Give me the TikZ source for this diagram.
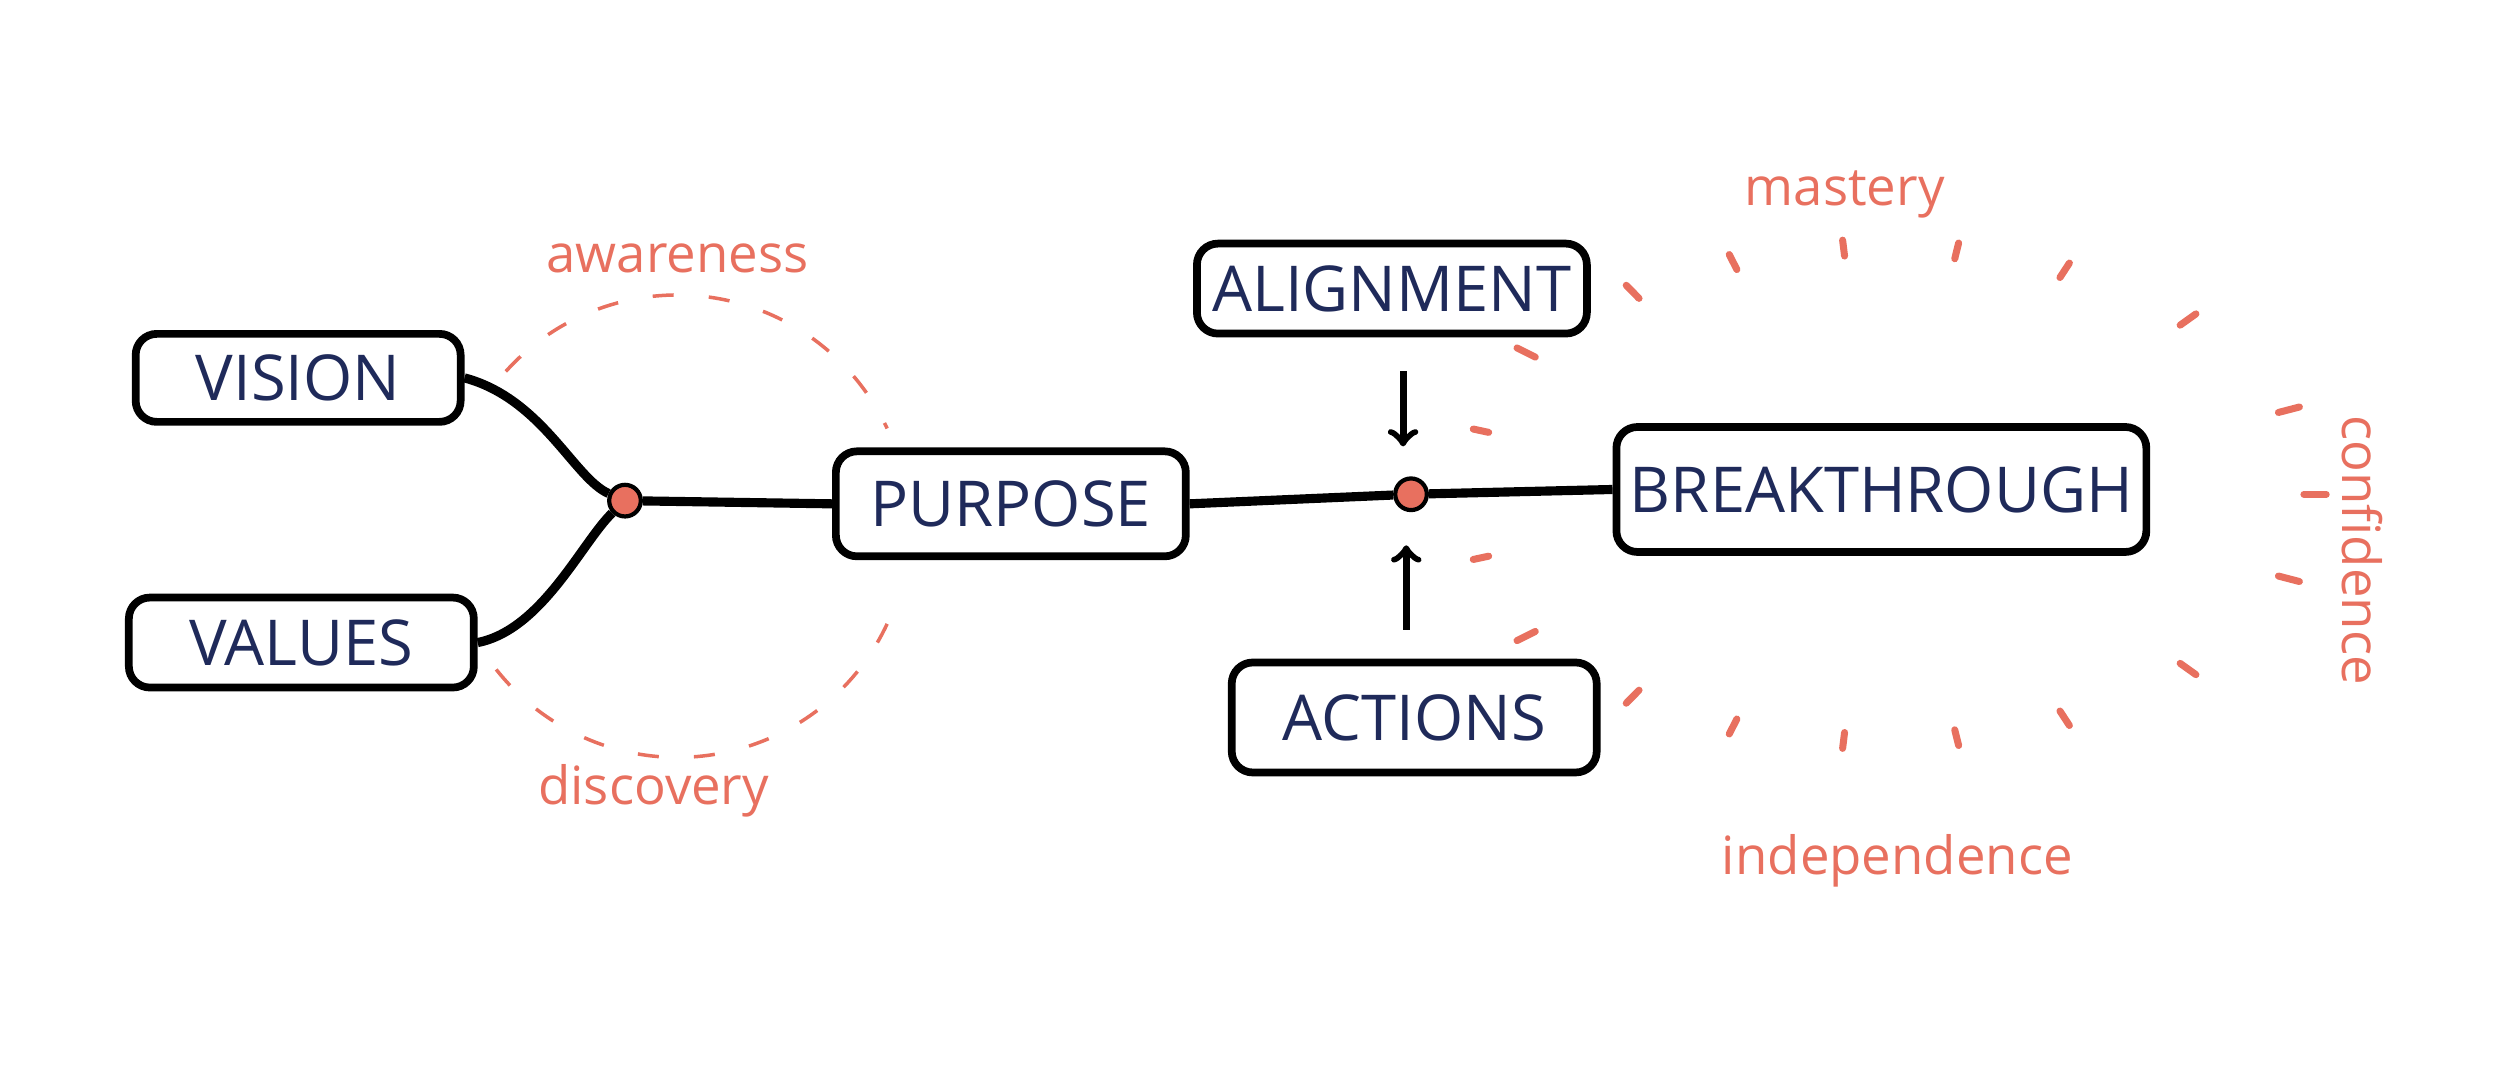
\documentclass[tikz,border=0pt]{standalone}
\usepackage{fontspec}
\setmainfont{Open Sans}
\usetikzlibrary{positioning}
\definecolor{ink}{HTML}{1F2A5A}
\definecolor{salmon}{HTML}{E8705F}
\begin{document}
\begin{tikzpicture}[x=0.01594cm,y=-0.01594cm,
    box/.style={draw=black,line width=2.2pt,rounded corners=6pt,fill=white,text=ink,
      font=\fontsize{18}{22}\selectfont,inner sep=0pt},
    word/.style={text=salmon,font=\fontsize{15}{18}\selectfont},
    link/.style={line width=2.6pt,black},
    tick/.style={salmon,line width=2pt,line cap=round},
    dot/.style={circle,fill=salmon,draw=black,line width=1.2pt,inner sep=0pt,minimum size=9pt}]
    \useasboundingbox (0,0) rectangle (1568,672);
    %Dashed circle
    \draw[salmon,dash pattern=on 6pt off 10pt,line width=1pt] (425,330) ++(222:145) arc (222:335:145);
    \draw[salmon,dash pattern=on 6pt off 10pt,line width=1pt] (425,330) ++(25:145) arc (25:150:145);
    \node[word] (awareness) at (425,162) {awareness};
    \node[word] (discovery) at (410,496) {discovery};
    %Inputs
    \node[box,minimum width=3.25cm,minimum height=0.88cm] (vision) at (187,237) {VISION};
    \node[box,minimum width=3.45cm,minimum height=0.9cm] (values) at (189,403) {VALUES};
    \node[dot] (join) at (392,314) {};
    \draw[link] (vision.east) .. controls (340,250) and (360,300) .. (join);
    \draw[link] (values.east) .. controls (340,395) and (365,340) .. (join);
    %Purpose
    \node[box,minimum width=3.5cm,minimum height=1.05cm] (purpose) at (634,316) {PURPOSE};
    \draw[link] (join) -- (purpose.west);
    \node[dot] (meet) at (885,310) {};
    \draw[link] (purpose.east) -- (meet);
    %Alignment and actions
    \node[box,minimum width=3.9cm,minimum height=0.9cm] (alignment) at (873,181) {ALIGNMENT};
    \node[box,minimum width=3.65cm,minimum height=1.1cm] (actions) at (887,450) {ACTIONS};
    \coordinate (atop) at (880,233);
    \coordinate (abot) at (882,395);
    \draw[->,line width=2pt] (atop) -- (880,280);
    \draw[->,line width=2pt] (abot) -- (882,342);
    %Breakthrough
    \node[box,minimum width=5.3cm,minimum height=1.25cm] (breakthrough) at (1180,307) {BREAKTHROUGH};
    \draw[link] (meet) -- (breakthrough.west);
    \foreach \a in {20,45,65,80,95,110,125,145,215,235,250,265,280,295,315,340,0}
      \draw[tick] (1180,310) ++(\a:265 and 150) -- ++(\a:14 and 10);
    \draw[tick] (1180,310) ++(165:255 and 150) -- ++(165:10 and 8);
    \draw[tick] (1180,310) ++(195:255 and 150) -- ++(195:10 and 8);
    \node[word] (mastery) at (1157,122) {mastery};
    \node[word,rotate=-90] (confidence) at (1482,345) {confidence};
    \node[word] (independence) at (1190,540) {independence};
\end{tikzpicture}
\end{document}
